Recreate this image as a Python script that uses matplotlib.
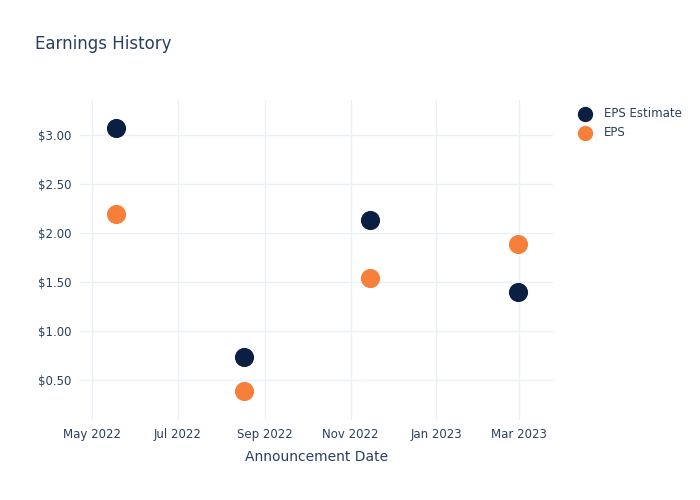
import matplotlib
matplotlib.use("Agg")
import matplotlib.pyplot as plt
import datetime as dt

dates = ["2022-05-18", "2022-08-17", "2022-11-15", "2023-02-28"]
eps_estimate = [3.07, 0.73, 2.13, 1.40]
eps_actual = [2.19, 0.39, 1.54, 1.89]
x_ticks = ["2022-05-01", "2022-07-01", "2022-09-01", "2022-11-01", "2023-01-01", "2023-03-01"]
x_tick_labels = ["May 2022", "Jul 2022", "Sep 2022", "Nov 2022", "Jan 2023", "Mar 2023"]
y_ticks = [0.5, 1.0, 1.5, 2.0, 2.5, 3.0]

txt = "#2a3f5f"
grid = "#ebf0f8"
c_est = "#0b1f42"
c_eps = "#f6803a"

d = [dt.datetime.fromisoformat(s) for s in dates]
xt = [dt.datetime.fromisoformat(s) for s in x_ticks]

fig = plt.figure(figsize=(7, 5), dpi=100)
ax = fig.add_axes([80/700, 80/500, 473/700, 320/500])

ax.scatter(d, eps_estimate, s=190, color=c_est, zorder=3, label="EPS Estimate", linewidths=0)
ax.scatter(d, eps_actual, s=190, color=c_eps, zorder=3, label="EPS", linewidths=0)

ax.set_xlim(dt.datetime(2022, 4, 22, 12), dt.datetime(2023, 3, 25))
ax.set_ylim(0.092, 3.357)
ax.set_xticks(xt)
ax.set_xticklabels(x_tick_labels)
ax.set_yticks(y_ticks)
ax.set_yticklabels([f"${v:.2f}" for v in y_ticks])

for s in ax.spines.values():
    s.set_visible(False)
ax.grid(True, color=grid, linewidth=1)
ax.set_axisbelow(True)
ax.tick_params(axis="both", length=0, labelsize=8.5, colors=txt, pad=6)
ax.set_xlabel("Announcement Date", fontsize=10, color=txt, labelpad=6)

fig.text(35/700, 1 - 44/500, "Earnings History", fontsize=12, color=txt, va="center", ha="left")

leg = ax.legend(loc="upper left", bbox_to_anchor=(563/700, 1 - 96/500), bbox_transform=fig.transFigure,
                frameon=False, fontsize=8.5, handletextpad=0.6, labelspacing=0.55, markerscale=0.8)
for t in leg.get_texts():
    t.set_color(txt)

fig.savefig("out.png", dpi=100)
